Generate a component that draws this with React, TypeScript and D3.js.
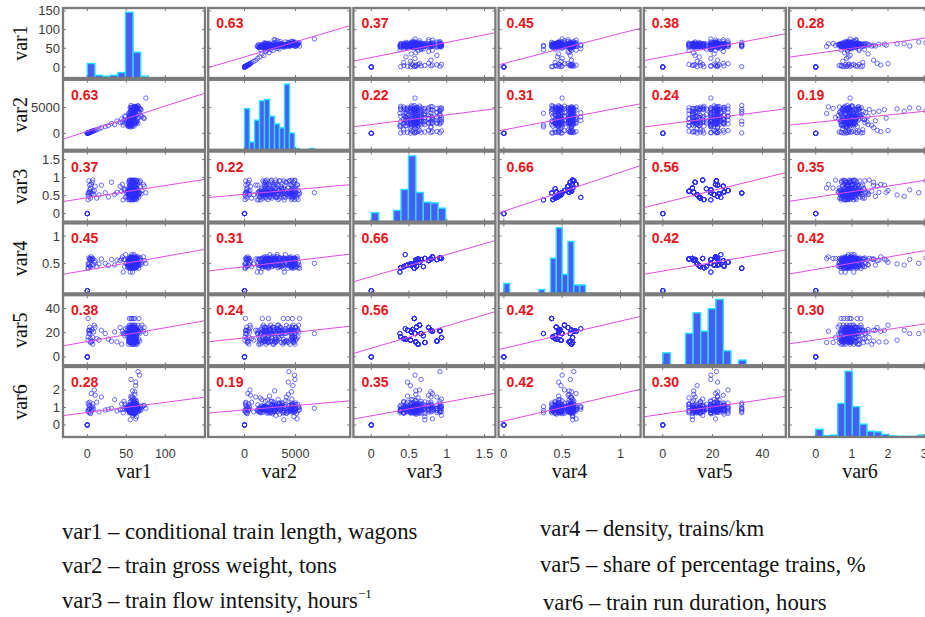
import React from 'react';
import * as d3 from 'd3';

// ---------- variables / axes ----------
const VAR_NAMES = ['var1', 'var2', 'var3', 'var4', 'var5', 'var6'];
const X_DOMAINS: [number, number][] = [[-31.2, 150.9], [-3560, 10360], [-0.237, 1.645], [-0.045, 1.173], [-7.64, 49.4], [-0.74, 3.19]];
const Y_DOMAINS: [number, number][] = [[-29.4, 157.8], [-3200, 10400], [-0.222, 1.722], [-0.05, 1.232], [-6.86, 51.0], [-0.686, 3.314]];
const X_TICKS = [[0, 50, 100], [0, 5000], [0, 0.5, 1, 1.5], [0, 0.5, 1], [0, 20, 40], [0, 1, 2, 3]];
const Y_TICKS = [[0, 50, 100, 150], [0, 5000], [0, 0.5, 1, 1.5], [0.5, 1], [0, 20, 40], [0, 1, 2]];

// ---------- correlation coefficients ----------
const CORR = [
  [1, 0.63, 0.37, 0.45, 0.38, 0.28],
  [0.63, 1, 0.22, 0.31, 0.24, 0.19],
  [0.37, 0.22, 1, 0.66, 0.56, 0.35],
  [0.45, 0.31, 0.66, 1, 0.42, 0.42],
  [0.38, 0.24, 0.56, 0.42, 1, 0.30],
  [0.28, 0.19, 0.35, 0.42, 0.30, 1],
];

// ---------- histogram counts (diagonal) ----------
const HIST_START = [0, 0, 0, 0, 0, 0];
const HIST_WIDTH = [9.78, 490, 0.0985, 0.05, 3.04, 0.2026];
const HIST_VAR1 = [32, 6, 4, 6, 12, 145, 57, 4];
const HIST_VAR2 = [32, 6, 23, 38, 39, 26, 20, 17, 51, 13, 1, 0, 0, 1];
const HIST_VAR3 = [12, 0, 0, 15, 43, 88, 39, 26, 25, 18];
const HIST_VAR4 = [13, 0, 0, 0, 0, 0, 5, 0, 46, 86, 25, 68, 11, 11];
const HIST_VAR5 = [12, 0, 0, 31, 51, 33, 55, 64, 14, 0, 5];
const HIST_VAR6 = [12, 2, 3, 52, 102, 47, 20, 9, 8, 4, 2, 1, 1, 1, 3];

// ---------- section-level values (var3, var4, var5) ----------
const SEC_VAR3 = [0, 0.38, 0.39, 0.43, 0.46, 0.48, 0.52, 0.53, 0.55, 0.57, 0.58, 0.59, 0.60, 0.62, 0.64, 0.66, 0.71, 0.76, 0.79, 0.81, 0.87, 0.91, 0.93, 0.45, 0.69];
const SEC_VAR4 = [0, 0.34, 0.42, 0.44, 0.46, 0.47, 0.49, 0.47, 0.48, 0.41, 0.50, 0.56, 0.45, 0.58, 0.52, 0.57, 0.59, 0.55, 0.58, 0.62, 0.57, 0.60, 0.59, 0.66, 0.44];
const SEC_VAR5 = [0, 19.3, 16.5, 15.1, 14.6, 22.0, 13.8, 20.6, 22.6, 31.7, 19.3, 12.4, 24.6, 10.5, 26.2, 19.3, 11.9, 24.3, 22.0, 21.2, 13.0, 21.5, 16.0, 23.3, 17.5];

// ---------- observations (trains) ----------
const OBS_SECTION = [
  0, 0, 0, 0, 0, 0,
  2, 9, 5, 21, 12, 16, 19, 8, 22, 14,
  3, 6, 18, 10, 4, 20, 7, 11, 17, 13, 1, 15, 24, 23,
  1, 1, 2, 2, 2, 2, 3, 3, 3, 3, 4, 4, 4, 4, 4, 5, 5, 5, 5, 5, 6, 6, 6, 6, 6, 6, 7, 7, 7, 7, 7, 7,
  8, 8, 8, 8, 8, 8, 9, 9, 9, 10, 10, 10, 10, 10, 10, 11, 11, 11, 11, 11, 11, 12, 12, 12, 12, 12,
  13, 13, 13, 13, 14, 14, 14, 14, 15, 15, 15, 15, 15, 16, 16, 16, 16, 17, 17, 17, 18, 18, 18, 18,
  19, 19, 19, 20, 20, 20, 21, 21, 21, 21, 21, 22, 22, 22, 23, 24, 24, 19, 10,
  6, 10, 15, 18, 3, 11, 20, 13, 7, 17,
  2, 3, 4, 5, 6, 6, 7, 7, 8, 8, 9, 9, 10, 10, 11, 11, 12, 12, 13, 13,
  14, 14, 15, 15, 16, 16, 17, 17, 18, 18, 19, 19, 20, 20, 21, 21, 21, 22, 22, 23,
  24, 5, 11, 16, 8, 14, 4, 12, 20, 2, 10, 15, 19, 7, 13, 18, 21, 3, 9, 17,
];
const OBS_VAR1 = [
  0, 0, 0, 0, 0, 0,
  1, 1, 2, 2, 3, 4, 5, 6, 7, 9,
  12, 15, 18, 23, 27, 31, 35, 38, 42, 44, 46, 47, 48, 49,
  55, 58, 52, 57, 60, 63, 54, 56, 59, 61, 53, 55, 58, 62, 57, 51, 56, 59, 64, 57, 54, 56, 58, 60, 62, 55, 53, 57, 59, 61, 66, 58,
  52, 55, 58, 60, 63, 56, 57, 61, 54, 53, 56, 58, 60, 62, 67, 54, 57, 59, 61, 64, 56, 55, 58, 60, 63, 57,
  53, 59, 62, 56, 54, 58, 61, 65, 52, 57, 59, 62, 56, 55, 58, 60, 63, 54, 59, 68, 56, 58, 61, 57,
  55, 60, 62, 53, 58, 64, 54, 57, 59, 61, 65, 56, 60, 58, 57, 55, 62, 72, 75,
  1, 2, 3, 3, 4, 5, 6, 7, 8, 10,
  54, 58, 60, 55, 57, 61, 55, 62, 57, 64, 59, 66, 55, 59, 53, 62, 56, 61, 58, 64,
  56, 60, 54, 64, 57, 62, 56, 61, 54, 63, 57, 65, 55, 60, 56, 63, 58, 54, 62, 60,
  58, 62, 58, 55, 69, 70, 66, 52, 67, 61, 50, 48, 45, 65, 60, 59, 68, 63, 56, 73,
];
const OBS_VAR2 = [
  0, 0, 0, 0, 0, 0,
  60, 90, 150, 120, 210, 260, 330, 400, 470, 540,
  700, 900, 1100, 1300, 1500, 1900, 1700, 2400, 2100, 2800, 1600, 2600, 2000, 3200,
  1250, 3900, 1400, 2300, 4600, 4900, 1800, 2700, 4700, 5100, 1500, 2050, 3100, 4800, 4550, 1900, 2450, 3500, 4650, 4950,
  1700, 2200, 2600, 4150, 4750, 5000, 1350, 1950, 2900, 3650, 4850, 4400,
  2150, 2500, 3300, 4500, 5200, 1600, 2350, 4700, 3800, 1850, 2250, 2750, 4050, 4600, 4900, 1450, 2000, 3100, 4300, 4800, 2650,
  1750, 2400, 3450, 4650, 5050,
  2100, 2850, 4450, 1550, 2550, 3350, 4750, 5300, 1650, 2200, 3700, 4550, 4950, 2300, 3000, 4250, 4850, 1950, 3550, 4700,
  2450, 3950, 4600, 1300,
  2700, 3200, 5150, 2050, 4100, 4800, 1800, 2600, 3400, 4900, 4350, 2200, 4650, 3050, 4000, 2350, 4700, 3000, 6850,
  40, 100, 180, 140, 230, 300, 360, 420, 500, 580,
  3300, 2100, 3800, 2850, 3250, 1900, 4150, 2350, 3700, 2900, 1750, 4250, 3550, 1600, 3900, 2250, 4350, 2000, 3750, 4950,
  1850, 4100, 3050, 2450, 1700, 3600, 2800, 5000, 3350, 2150, 4500, 1950, 3100, 2550, 4450, 2050, 3850, 2650, 4950, 2500,
  3650, 4300, 2950, 3850, 4600, 3250, 3050, 2750, 4000, 5250, 2400, 3400, 2200, 5350, 1400, 5200, 3500, 3450, 5400, 2900,
];
const OBS_VAR6 = [
  0, 0, 0, 0, 0, 0,
  0.85, 1.25, 0.95, 0.72, 1.1, 0.65, 1.8, 0.9, 1.05, 2.0,
  1.3, 0.75, 1.6, 0.85, 0.9, 0.95, 1.45, 0.8, 0.88, 1.2, 0.7, 1.35, 0.92, 1.0,
  0.82, 1.05, 0.95, 0.78, 1.12, 0.88, 0.72, 1.35, 0.92, 0.66, 1.02, 0.85, 0.97, 1.22, 0.74, 0.88, 1.65, 0.91, 1.08, 0.79,
  0.93, 0.83, 1.18, 0.69, 2.25, 0.96, 0.86, 1.04, 0.76, 1.28, 0.9, 1.12,
  0.99, 0.72, 1.45, 0.87, 1.02, 0.81, 0.94, 1.15, 0.7, 1.06, 0.88, 0.64, 1.38, 0.95, 2.85, 0.77, 1.0, 0.89, 1.75, 0.73, 1.1,
  0.84, 0.98, 0.62, 1.2, 0.91,
  0.82, 1.05, 0.95, 1.55, 0.86, 1.25, 0.76, 1.0, 0.93, 0.69, 1.13, 0.87, 2.6, 0.97, 0.8, 1.32, 0.48, 0.9, 1.08, 0.83,
  0.99, 0.75, 1.9, 1.15,
  0.88, 1.01, 0.35, 0.96, 1.6, 0.85, 1.03, 0.79, 1.22, 0.92, 3.05, 0.94, 1.48, 0.55, 1.06, 0.9, 1.18, 1.1, 0.95,
  0.78, 1.15, 0.88, 1.3, 0.7, 1.0, 0.82, 1.2, 0.92, 1.7,
  0.9, 1.1, 0.8, 1.3, 0.75, 1.05, 0.95, 0.68, 1.22, 0.85, 0.98, 0.78, 1.15, 0.72, 0.96, 1.42, 0.8, 1.07, 0.7, 1.16,
  0.94, 0.66, 1.02, 0.84, 1.1, 0.92, 0.74, 1.26, 0.88, 1.04, 0.8, 0.97, 1.14, 0.71, 0.99, 1.36, 0.83, 1.09, 0.77, 0.9,
  1.02, 2.45, 1.95, 0.3, 0.9, 1.05, 0.86, 1.12, 0.93, 0.81, 0.95, 1.2, 0.88, 1.0, 0.76, 1.18, 1.08, 0.98, 0.87, 1.12,
];

// ---------- legend ----------
const LEGEND_LEFT = ['var1 – conditional train length, wagons', 'var2 – train gross weight, tons', 'var3 – train flow intensity, hours'];
const LEGEND_LEFT_SUP = ['', '', '−1'];
const LEGEND_RIGHT = ['var4 – density, trains/km', 'var5 – share of percentage trains, %', 'var6 – train run duration, hours'];

// ---------- layout ----------
const W = 925, H = 617;
const COL0 = 63, COL_STEP = 145.2, PW = 142;
const ROW0 = 8, ROW_STEP = 71.8, PH = 70;
const SANS = 'Liberation Sans';
const SERIF = 'Liberation Serif';

function sd(a: number[]) {
  return d3.deviation(a) as number;
}

export default function App() {
  const values: number[][] = [
    OBS_VAR1,
    OBS_VAR2,
    OBS_SECTION.map((s) => SEC_VAR3[s]),
    OBS_SECTION.map((s) => SEC_VAR4[s]),
    OBS_SECTION.map((s) => SEC_VAR5[s]),
    OBS_VAR6,
  ];
  const hists = [HIST_VAR1, HIST_VAR2, HIST_VAR3, HIST_VAR4, HIST_VAR5, HIST_VAR6];

  const panels: React.ReactNode[] = [];
  const clips: React.ReactNode[] = [];
  const frames: React.ReactNode[] = [];

  for (let i = 0; i < 6; i++) {
    for (let j = 0; j < 6; j++) {
      const x0 = COL0 + j * COL_STEP;
      const y0 = ROW0 + i * ROW_STEP;
      const xs = d3.scaleLinear().domain(X_DOMAINS[j]).range([x0, x0 + PW]);
      const ys = d3.scaleLinear().domain(Y_DOMAINS[i]).range([y0 + PH, y0]);
      const id = `clip-${i}-${j}`;
      clips.push(
        <clipPath id={id} key={id}>
          <rect x={x0} y={y0} width={PW} height={PH} />
        </clipPath>
      );
      const content: React.ReactNode[] = [];
      if (i === j) {
        const counts = hists[i];
        const hy = d3.scaleLinear().domain([0, (d3.max(counts) as number) * 1.065]).range([y0 + PH, y0]);
        counts.forEach((c, k) => {
          const a = HIST_START[i] + k * HIST_WIDTH[i];
          const b = a + HIST_WIDTH[i];
          content.push(
            <rect key={`h${k}`} x={xs(a)} y={hy(c)} width={xs(b) - xs(a)} height={hy(0) - hy(c)}
              fill="#4b5cf3" stroke="#22e0ff" strokeWidth={1.4} />
          );
        });
      } else {
        const xv = values[j];
        const yv = values[i];
        // least-squares line: slope = r * sy / sx, through the means
        const mx = d3.mean(xv) as number;
        const my = d3.mean(yv) as number;
        const slope = CORR[i][j] * sd(yv) / sd(xv);
        const icpt = my - slope * mx;
        const line = d3.line<number>().x((d) => xs(d)).y((d) => ys(icpt + slope * d));
        xv.forEach((xval, k) => {
          content.push(
            <circle key={`p${k}`} cx={xs(xval)} cy={ys(yv[k])} r={2.2} fill="none"
              stroke="#2b2bff" strokeOpacity={0.8} strokeWidth={0.85} />
          );
        });
        content.push(
          <path key="reg" d={line(X_DOMAINS[j]) as string} stroke="#e04ce6" strokeWidth={1} fill="none" />
        );
        content.push(
          <text key="corr" x={x0 + 8} y={y0 + 20} fill="#e8141c" fontFamily={SANS} fontWeight="bold" fontSize={14}>
            {CORR[i][j].toFixed(2)}
          </text>
        );
      }
      panels.push(
        <g key={`panel-${i}-${j}`}>
          <rect x={x0} y={y0} width={PW} height={PH} fill="#fff" />
          <g clipPath={`url(#${id})`}>{content}</g>
        </g>
      );
      const tickEls: React.ReactNode[] = [];
      X_TICKS[j].forEach((t, k) => {
        const tx = xs(t);
        tickEls.push(<line key={`xt${k}a`} x1={tx} x2={tx} y1={y0} y2={y0 + 3} stroke="#777" strokeWidth={1} />);
        tickEls.push(<line key={`xt${k}b`} x1={tx} x2={tx} y1={y0 + PH} y2={y0 + PH - 3} stroke="#777" strokeWidth={1} />);
      });
      Y_TICKS[i].forEach((t, k) => {
        const ty = ys(t);
        tickEls.push(<line key={`yt${k}a`} x1={x0} x2={x0 + 3} y1={ty} y2={ty} stroke="#777" strokeWidth={1} />);
        tickEls.push(<line key={`yt${k}b`} x1={x0 + PW} x2={x0 + PW - 3} y1={ty} y2={ty} stroke="#777" strokeWidth={1} />);
      });
      frames.push(
        <g key={`frame-${i}-${j}`}>
          {tickEls}
          <rect x={x0} y={y0} width={PW} height={PH} fill="none" stroke="#7a7a7a" strokeWidth={2.3} />
        </g>
      );
    }
  }

  const axisEls: React.ReactNode[] = [];
  for (let j = 0; j < 6; j++) {
    const x0 = COL0 + j * COL_STEP;
    const xs = d3.scaleLinear().domain(X_DOMAINS[j]).range([x0, x0 + PW]);
    X_TICKS[j].forEach((t, k) => {
      axisEls.push(
        <text key={`xl${j}-${k}`} x={xs(t)} y={458} textAnchor="middle" fontFamily={SANS} fontSize={12.5} fill="#3a3a3a">
          {String(t)}
        </text>
      );
    });
    axisEls.push(
      <text key={`xn${j}`} x={x0 + PW / 2} y={478} textAnchor="middle" fontFamily={SERIF} fontSize={20} fill="#111">
        {VAR_NAMES[j]}
      </text>
    );
  }
  for (let i = 0; i < 6; i++) {
    const y0 = ROW0 + i * ROW_STEP;
    const ys = d3.scaleLinear().domain(Y_DOMAINS[i]).range([y0 + PH, y0]);
    Y_TICKS[i].forEach((t, k) => {
      axisEls.push(
        <text key={`yl${i}-${k}`} x={60} y={ys(t) + 4.5} textAnchor="end" fontFamily={SANS} fontSize={13} fill="#3a3a3a">
          {String(t)}
        </text>
      );
    });
    axisEls.push(
      <text key={`yn${i}`} transform={`translate(27,${y0 + PH / 2}) rotate(-90)`} textAnchor="middle"
        fontFamily={SERIF} fontSize={20} fill="#111">
        {VAR_NAMES[i]}
      </text>
    );
  }

  const legendLeftY = [539, 573, 608];
  const legendRightY = [536, 572, 610];
  const legendRightX = [540, 540, 543];

  return (
    <svg width={W} height={H} viewBox={`0 0 ${W} ${H}`} style={{ position: 'absolute', left: 0, top: 0, background: '#fff' }}>
      <rect x={0} y={0} width={W} height={H} fill="#fff" />
      <defs>{clips}</defs>
      {panels}
      {frames}
      {axisEls}
      {LEGEND_LEFT.map((s, k) => (
        <text key={`ll${k}`} x={62} y={legendLeftY[k]} fontFamily={SERIF} fontSize={22.7} fill="#111">
          {s}
          {LEGEND_LEFT_SUP[k] ? <tspan dy={-10} fontSize={13}>{LEGEND_LEFT_SUP[k]}</tspan> : null}
        </text>
      ))}
      {LEGEND_RIGHT.map((s, k) => (
        <text key={`lr${k}`} x={legendRightX[k]} y={legendRightY[k]} fontFamily={SERIF} fontSize={22.7} fill="#111">
          {s}
        </text>
      ))}
    </svg>
  );
}
